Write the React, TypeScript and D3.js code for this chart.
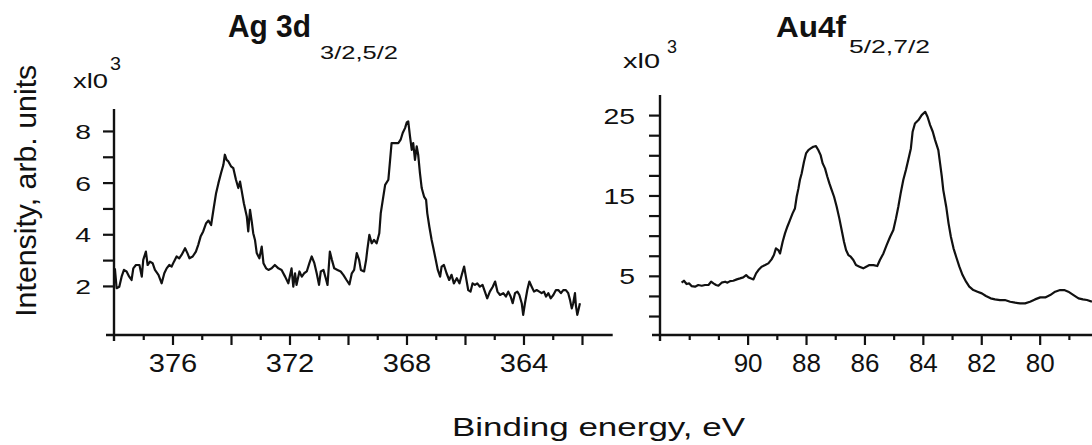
import React, { useEffect, useRef } from "react";
import * as d3 from "d3";

// Ag 3d spectrum: binding energy (eV) and intensity (x10^3)
const agEnergy = [
  377.97, 377.91, 377.82, 377.74, 377.66, 377.57, 377.48, 377.4, 377.34, 377.25,
  377.13, 377.05, 377.0, 376.91, 376.85, 376.77, 376.68, 376.6, 376.48, 376.37,
  376.28, 376.2, 376.11, 376.03, 375.95, 375.86, 375.77, 375.69, 375.57, 375.49,
  375.42, 375.31, 375.2, 375.12, 375.04, 374.95, 374.85, 374.77, 374.68, 374.6,
  374.51, 374.43, 374.34, 374.26, 374.21, 374.15, 374.09, 374.0, 373.92, 373.83,
  373.75, 373.69, 373.64, 373.56, 373.46, 373.41, 373.35, 373.29, 373.24, 373.18,
  373.12, 373.03, 372.95, 372.89, 372.8, 372.72, 372.61, 372.5, 372.38, 372.27,
  372.15, 372.04, 371.93, 371.87, 371.81, 371.76, 371.66, 371.58, 371.5, 371.41,
  371.32, 371.24, 371.15, 371.07, 370.99, 370.93, 370.84, 370.76, 370.7, 370.62,
  370.55, 370.47, 370.36, 370.25, 370.16, 370.05, 369.95, 369.87, 369.79, 369.7,
  369.62, 369.56, 369.45, 369.38, 369.34, 369.27, 369.19, 369.11, 369.02, 368.93,
  368.88, 368.81, 368.73, 368.62, 368.56, 368.51, 368.39, 368.28, 368.2, 368.13,
  368.05, 367.99, 367.94, 367.88, 367.82, 367.77, 367.71, 367.65, 367.6, 367.54,
  367.48, 367.4, 367.33, 367.29, 367.22, 367.14, 367.08, 367.0, 366.93, 366.85,
  366.8, 366.72, 366.63, 366.54, 366.46, 366.38, 366.28, 366.19, 366.11, 366.03,
  365.97, 365.89, 365.81, 365.74, 365.66, 365.58, 365.49, 365.4, 365.32, 365.24,
  365.15, 365.05, 364.97, 364.89, 364.8, 364.69, 364.6, 364.52, 364.44, 364.37,
  364.29, 364.21, 364.14, 364.06, 364.01, 363.95, 363.87, 363.8, 363.72, 363.64,
  363.55, 363.46, 363.38, 363.3, 363.23, 363.15, 363.07, 362.98, 362.89, 362.81,
  362.72, 362.64, 362.55, 362.47, 362.41, 362.35, 362.3, 362.24, 362.21, 362.16,
  362.11, 362.07
];
const agIntensity = [
  2.68, 1.91, 1.97, 2.36, 2.62, 2.56, 2.36, 2.23, 2.68, 2.81,
  2.81, 2.36, 3.01, 3.33, 2.81, 2.94, 2.88, 2.62, 2.43, 2.1,
  2.49, 2.68, 2.81, 2.75, 2.94, 3.14, 3.07, 3.2, 3.46, 3.27,
  3.07, 3.14, 3.33, 3.59, 3.91, 4.11, 4.43, 4.53, 4.36, 4.95,
  5.59, 5.98, 6.37, 6.69, 7.08, 6.88, 6.82, 6.63, 6.56, 6.11,
  5.79, 6.04, 5.72, 5.2, 4.69, 4.11, 4.95, 4.49, 4.04, 3.78,
  3.27, 3.07, 3.52, 2.88, 2.68, 2.62, 2.68, 2.81, 2.68, 2.62,
  2.36, 2.1, 2.68, 1.97, 2.49, 2.04, 2.56, 2.36, 2.49, 2.56,
  2.88, 3.14, 2.88, 2.49, 2.04, 2.56, 2.62, 2.3, 2.04, 3.33,
  3.01, 2.68, 2.62, 2.56, 2.43, 2.23, 2.06, 2.49, 2.62, 3.27,
  3.01, 2.62, 2.56, 3.01, 3.4, 3.98, 3.65, 3.78, 3.65, 4.04,
  4.82, 5.33, 5.91, 6.11, 6.88, 7.53, 7.53, 7.53, 7.66, 7.92,
  8.11, 8.33, 8.37, 7.79, 7.27, 7.53, 6.88, 7.4, 7.08, 6.37,
  5.79, 5.46, 5.33, 4.82, 4.3, 3.78, 3.46, 3.01, 2.62, 2.36,
  2.75, 2.81, 2.49, 2.23, 2.43, 2.1, 2.3, 2.1, 2.43, 2.75,
  2.36, 1.84, 1.78, 2.1, 2.04, 2.1, 1.97, 2.04, 1.78, 1.52,
  1.78, 1.97, 2.17, 1.78, 1.65, 1.72, 1.59, 1.78, 1.59, 1.33,
  1.72, 1.78, 1.65, 1.33, 0.88, 1.33, 1.84, 2.17, 1.97, 1.78,
  1.84, 1.78, 1.72, 1.78, 1.59, 1.72, 1.52, 1.65, 1.84, 1.84,
  1.72, 1.84, 1.84, 1.72, 1.46, 1.13, 1.33, 1.72, 1.26, 0.88,
  1.13, 1.33
];

// Au 4f spectrum
const auEnergy = [
  92.26, 92.18, 92.09, 92.0, 91.92, 91.8, 91.69, 91.57, 91.46, 91.34,
  91.25, 91.17, 91.08, 91.0, 90.89, 90.77, 90.69, 90.6, 90.49, 90.37,
  90.26, 90.15, 90.05, 89.97, 89.88, 89.8, 89.71, 89.63, 89.52, 89.4,
  89.29, 89.18, 89.1, 89.03, 88.95, 88.89, 88.8, 88.72, 88.64, 88.55,
  88.46, 88.38, 88.32, 88.26, 88.21, 88.15, 88.07, 88.0, 87.92, 87.84,
  87.75, 87.66, 87.58, 87.5, 87.43, 87.35, 87.27, 87.2, 87.12, 87.04,
  86.95, 86.86, 86.78, 86.7, 86.63, 86.55, 86.47, 86.38, 86.29, 86.17,
  86.04, 85.94, 85.83, 85.69, 85.56, 85.47, 85.35, 85.24, 85.12, 85.01,
  84.92, 84.84, 84.76, 84.67, 84.58, 84.5, 84.41, 84.35, 84.27, 84.15,
  84.04, 83.92, 83.84, 83.75, 83.66, 83.58, 83.47, 83.41, 83.35, 83.3,
  83.2, 83.12, 83.04, 82.95, 82.86, 82.75, 82.64, 82.52, 82.41, 82.27,
  82.13, 81.98, 81.84, 81.68, 81.53, 81.36, 81.19, 81.01, 80.84, 80.67,
  80.5, 80.33, 80.16, 79.98, 79.81, 79.64, 79.47, 79.3, 79.16, 79.02,
  78.84, 78.67, 78.52, 78.38, 78.21
];
const auIntensity = [
  4.15, 4.39, 3.98, 4.06, 3.73, 3.65, 3.86, 3.77, 3.86, 3.86,
  4.27, 4.06, 3.86, 3.77, 4.15, 4.27, 4.15, 4.35, 4.39, 4.56,
  4.68, 4.81, 5.1, 4.81, 4.68, 4.56, 5.31, 5.72, 6.14, 6.34,
  6.55, 7.05, 7.59, 8.42, 8.21, 7.79, 9.25, 10.28, 11.11, 11.94,
  12.77, 13.39, 14.84, 15.88, 16.92, 17.74, 19.2, 20.23, 20.65, 20.85,
  21.06, 21.14, 20.65, 20.02, 18.99, 18.37, 17.33, 16.5, 15.67, 14.84,
  13.6, 12.15, 10.7, 9.25, 8.21, 7.59, 7.38, 6.97, 6.34, 6.14,
  5.93, 6.14, 6.34, 6.34, 6.22, 6.97, 7.79, 8.83, 9.87, 10.7,
  12.15, 13.6, 15.26, 16.92, 18.16, 19.4, 20.85, 22.93, 23.96, 24.38,
  25.0, 25.41, 24.79, 23.76, 22.93, 21.89, 20.65, 18.99, 17.33, 15.67,
  13.6, 11.53, 9.87, 8.42, 7.38, 6.14, 5.1, 4.27, 3.65, 3.23,
  3.03, 2.82, 2.49, 2.2, 2.07, 1.99, 1.99, 1.78, 1.66, 1.58,
  1.58, 1.78, 2.07, 2.32, 2.32, 2.61, 3.03, 3.23, 3.23, 3.03,
  2.61, 2.2, 2.07, 1.99, 1.78
];

const agLabelTicks = [376, 372, 368, 364];
const agMajorTicks = [376, 374, 372, 370, 368, 366, 364, 362];
const agMinorTicks = [377, 375, 373, 371, 369, 367, 365, 363];
const agYTicks = [2, 3, 4, 5, 6, 7, 8];
const agYLabels = [2, 4, 6, 8];

const auLabelTicks = [90, 88, 86, 84, 82, 80];
const auMinorTicks = [92, 91, 89, 87, 85, 83, 81, 79];
const auYTicks = [0, 2.5, 5, 7.5, 10, 12.5, 15, 17.5, 20, 22.5, 25];
const auYLabels = [5, 15, 25];

const FONT = "'Liberation Sans', Arial, Helvetica, sans-serif";
const INK = "#111";

export default function App() {
  const ref = useRef<SVGSVGElement>(null);

  useEffect(() => {
    drawChart(ref.current);
  }, []);

  return (
    <svg
      ref={ref}
      width={1092}
      height={445}
      style={{ position: "absolute", left: 0, top: 0, background: "#fff" }}
    />
  );
}

function drawChart(node: SVGSVGElement | null) {
  if (!node) return;
  const svg = d3.select(node);
  svg.selectAll("*").remove();
  svg.append("rect").attr("width", 1092).attr("height", 445).attr("fill", "#fff");

  const axisY = 335;

  const xL = d3.scaleLinear().domain([378, 360.95]).range([114, 612.7]);
  const yL = d3.scaleLinear().domain([0.1, 8.85]).range([axisY, 109]);
  const xR = d3.scaleLinear().domain([93, 77.9]).range([660, 1101]);
  const yR = d3.scaleLinear().domain([-2.36, 27.5]).range([axisY, 95]);

  const styleAxis = (g: any) => {
    g.select(".domain").remove();
    g.selectAll("line").attr("stroke", INK).attr("stroke-width", 2.2);
    g.selectAll("text").attr("fill", INK).attr("font-family", FONT);
  };

  // bottom axes: major ticks with labels, minor ticks plain
  const bottomAxis = (scale: any, majors: number[], minors: number[], labels: number[], stretch: number) => {
    const gMaj = svg
      .append("g")
      .attr("transform", `translate(0,${axisY})`)
      .call(
        d3
          .axisBottom(scale)
          .tickValues(majors)
          .tickSize(10)
          .tickSizeOuter(0)
          .tickFormat((d: any) => (labels.includes(+d) ? String(d) : ""))
      );
    styleAxis(gMaj);
    gMaj
      .selectAll("text")
      .attr("y", null)
      .attr("dy", null)
      .attr("font-size", 26)
      .attr("transform", `translate(0,36.7) scale(${stretch},1)`);

    const gMin = svg
      .append("g")
      .attr("transform", `translate(0,${axisY})`)
      .call(d3.axisBottom(scale).tickValues(minors).tickSize(5).tickSizeOuter(0).tickFormat(() => ""));
    styleAxis(gMin);
  };

  const leftAxis = (scale: any, x: number, ticks: number[], labels: number[], size: number, offset: number, stretch: number) => {
    const g = svg
      .append("g")
      .attr("transform", `translate(${x},0)`)
      .call(
        d3
          .axisLeft(scale)
          .tickValues(ticks)
          .tickSize(11)
          .tickSizeOuter(0)
          .tickFormat((d: any) => (labels.includes(+d) ? String(d) : ""))
      );
    styleAxis(g);
    g.selectAll("text")
      .attr("x", null)
      .attr("dy", "0.36em")
      .attr("font-size", size)
      .attr("text-anchor", "end")
      .attr("transform", `translate(${-offset},0) scale(${stretch},1)`);
  };

  bottomAxis(xL, agMajorTicks, agMinorTicks, agLabelTicks, 1.12);
  bottomAxis(xR, auLabelTicks, auMinorTicks, auLabelTicks, 1.0);
  leftAxis(yL, 114, agYTicks, agYLabels, 21, 23, 1.35);
  leftAxis(yR, 660, auYTicks, auYLabels, 22, 25, 1.29);

  // axis lines
  const axisLine = (x1: number, y1: number, x2: number, y2: number) =>
    svg
      .append("line")
      .attr("x1", x1)
      .attr("y1", y1)
      .attr("x2", x2)
      .attr("y2", y2)
      .attr("stroke", INK)
      .attr("stroke-width", 2.4);
  axisLine(114, yL.range()[1], 114, 341);
  axisLine(106, axisY, xL.range()[1], axisY);
  axisLine(660, yR.range()[1], 660, 341);
  axisLine(652, axisY, 1092, axisY);

  // spectra
  const agLine = d3
    .line<number>()
    .x((d, i) => xL(agEnergy[i]))
    .y((d) => yL(d));
  const auLine = d3
    .line<number>()
    .x((d, i) => xR(auEnergy[i]))
    .y((d) => yR(d));

  svg
    .append("path")
    .attr("d", agLine(agIntensity))
    .attr("fill", "none")
    .attr("stroke", INK)
    .attr("stroke-width", 2.2)
    .attr("stroke-linejoin", "round");
  svg
    .append("path")
    .attr("d", auLine(auIntensity))
    .attr("fill", "none")
    .attr("stroke", INK)
    .attr("stroke-width", 2.2)
    .attr("stroke-linejoin", "round");

  // texts
  const text = (s: string, x: number, y: number, size: number, len: number, weight = "normal") =>
    svg
      .append("text")
      .attr("x", x)
      .attr("y", y)
      .attr("font-family", FONT)
      .attr("font-size", size)
      .attr("font-weight", weight)
      .attr("fill", INK)
      .attr("textLength", len)
      .attr("lengthAdjust", "spacingAndGlyphs")
      .text(s);

  text("Ag 3d", 228, 37.3, 31, 83, "bold");
  text("3/2,5/2", 320, 59.3, 18, 78);
  text("Au4f", 776, 36.7, 30, 70, "bold");
  text("5/2,7/2", 849, 53.3, 19, 81);

  text("xl0", 73, 88.3, 21, 35);
  text("3", 110, 70, 18, 11);
  text("xl0", 623, 68.3, 21, 37);
  text("3", 667, 53.3, 18, 10);

  svg
    .append("text")
    .attr("transform", "translate(35.7,190.8) rotate(-90)")
    .attr("text-anchor", "middle")
    .attr("font-family", FONT)
    .attr("font-size", 30)
    .attr("fill", INK)
    .attr("textLength", 252)
    .attr("lengthAdjust", "spacingAndGlyphs")
    .text("Intensity, arb. units");

  text("Binding energy, eV", 452, 436, 25, 293);
}
